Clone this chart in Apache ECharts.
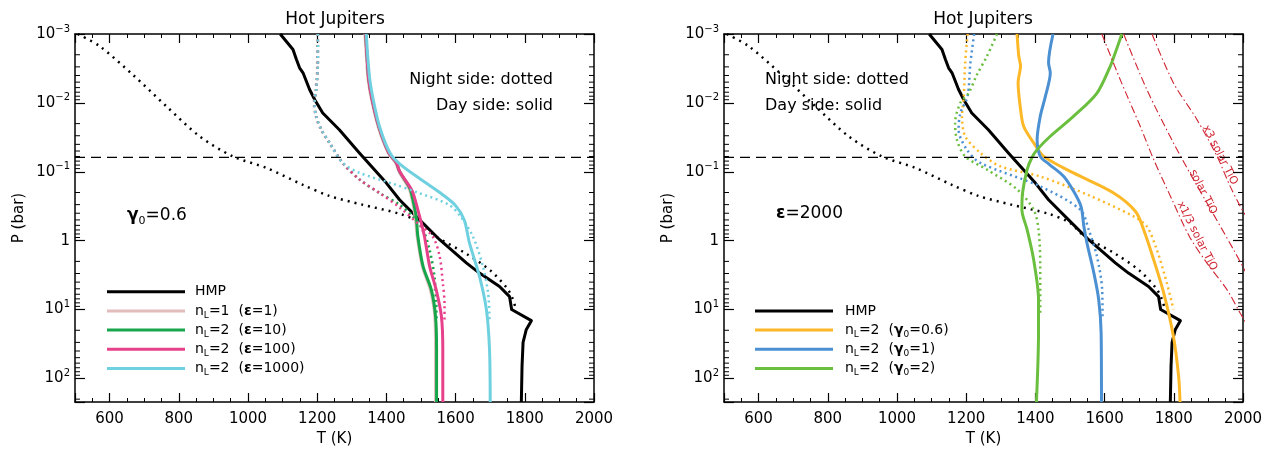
<!DOCTYPE html>
<html><head><meta charset="utf-8">
<script src="https://cdn.jsdelivr.net/npm/echarts@6/dist/echarts.min.js"></script>
<style>html,body{margin:0;padding:0;background:#fff}#c{width:1273px;height:452px}</style>
</head><body><div id="c"></div>
<script>
const FONT = 'DejaVu Sans';
// ---------- data: temperature (K) vs pressure (bar) ----------
const hmpDayT   = [1093, 1130, 1140, 1149, 1159, 1178, 1193, 1216, 1264, 1322, 1400, 1438, 1496, 1554, 1631, 1669, 1727, 1756, 1762, 1819, 1804, 1795, 1792, 1790];
const hmpDayP   = [0.001, 0.00168, 0.00235, 0.0031, 0.00366, 0.0064, 0.009, 0.014, 0.0246, 0.0533, 0.146, 0.255, 0.5, 0.97, 2.1, 2.96, 4.63, 6.5, 10, 14.5, 19.7, 30, 67, 220];
const hmpNightT = [508, 571, 667, 764, 860, 956, 1053, 1159, 1236, 1330, 1440, 1500, 1540, 1631, 1700, 1750, 1765, 1772];
const hmpNightP = [0.001, 0.0015, 0.0039, 0.0112, 0.0305, 0.0597, 0.088, 0.155, 0.225, 0.3, 0.41, 0.55, 0.85, 1.55, 2.7, 5.0, 7.0, 9.0];

// left panel (gamma0 = 0.6)
const dayP_L    = [0.001, 0.0021, 0.0046, 0.009, 0.022, 0.053, 0.0745, 0.0986, 0.163, 0.203, 0.445, 0.87, 2.37, 5.2, 12.6, 38, 220];
const eps1DayT  = [1338, 1342, 1347, 1357, 1376, 1405, 1427, 1436, 1462, 1470, 1483, 1489, 1504, 1527, 1540, 1542, 1542];
const eps10DayT = [1340, 1344, 1349, 1359, 1378, 1407, 1429, 1438, 1465, 1472, 1486, 1491, 1506, 1530, 1542, 1545, 1545];
const eps100DayT= [1340, 1344, 1349, 1359, 1378, 1407, 1429, 1438, 1467, 1477, 1496, 1510, 1525, 1544, 1559, 1563, 1563];
const eps1000DayT=[1342, 1346, 1352, 1362, 1380, 1410, 1440, 1515, 1560, 1600, 1625, 1640, 1669, 1689, 1698, 1700];
const eps1000DayP=[0.001, 0.0021, 0.0046, 0.009, 0.022, 0.053, 0.078, 0.146, 0.21, 0.31, 0.5, 1.08, 3.3, 10, 38, 220];

const eps10NightT = [1202, 1202, 1197, 1192, 1197, 1212, 1236, 1274, 1323, 1380, 1438, 1477, 1506, 1525, 1539, 1544, 1545];
const eps10NightP = [0.001, 0.00267, 0.0064, 0.01, 0.0156, 0.0244, 0.0381, 0.0745, 0.130, 0.203, 0.30, 0.445, 0.695, 1.36, 3.3, 8.1, 14];
const eps1NightT  = [1200, 1200, 1195, 1190, 1195, 1210, 1234, 1272, 1321, 1378, 1436, 1475, 1503, 1522, 1536, 1541, 1542];
const eps100NightT= [1202, 1202, 1197, 1192, 1197, 1212, 1236, 1274, 1323, 1380, 1438, 1496, 1534, 1554, 1563, 1568, 1568];
const eps100NightP= [0.001, 0.00267, 0.0064, 0.01, 0.0156, 0.0244, 0.0381, 0.0745, 0.130, 0.203, 0.33, 0.59, 0.87, 1.7, 4.1, 8.1, 14];
const eps1000NightT=[1202, 1202, 1197, 1192, 1197, 1212, 1236, 1274, 1323, 1420, 1490, 1580, 1615, 1650, 1679, 1694, 1698];
const eps1000NightP=[0.001, 0.00267, 0.0064, 0.01, 0.0156, 0.0244, 0.0381, 0.0745, 0.104, 0.15, 0.2, 0.3, 0.45, 0.87, 2.37, 5.8, 14];

// right panel (epsilon = 2000)
const g06DayT = [1347, 1352, 1357, 1350, 1356, 1366, 1395, 1424, 1510, 1626, 1690, 1715, 1742, 1771, 1799, 1814, 1818];
const g06DayP = [0.001, 0.0021, 0.0029, 0.0051, 0.0112, 0.0219, 0.0381, 0.0597, 0.104, 0.203, 0.38, 0.743, 1.9, 5.78, 24.7, 94, 220];
const g06NightT = [1204, 1197, 1193, 1188, 1197, 1241, 1299, 1414, 1555, 1684, 1722, 1751, 1780, 1799];
const g06NightP = [0.001, 0.00267, 0.008, 0.0157, 0.0305, 0.0533, 0.0835, 0.117, 0.22, 0.445, 0.62, 1.36, 4.14, 10];
const g1DayT = [1451, 1438, 1443, 1429, 1414, 1405, 1414, 1440, 1482, 1510, 1532, 1540, 1549, 1569, 1583, 1590, 1591];
const g1DayP = [0.001, 0.00262, 0.00366, 0.008, 0.0157, 0.034, 0.0597, 0.078, 0.117, 0.19, 0.32, 0.62, 1.08, 2.96, 7.2, 22, 220];
const g1NightT = [1223, 1212, 1204, 1183, 1178, 1202, 1241, 1414, 1530, 1554, 1578, 1593, 1594];
const g1NightP = [0.001, 0.00267, 0.008, 0.0141, 0.0244, 0.0477, 0.0745, 0.163, 0.356, 0.69, 1.7, 5.2, 12.6];
const g2DayT = [1650, 1626, 1617, 1578, 1510, 1443, 1405, 1390, 1376, 1363, 1361, 1376, 1395, 1409, 1409, 1403];
const g2DayP = [0.001, 0.0022, 0.0029, 0.0072, 0.0157, 0.0305, 0.0477, 0.062, 0.093, 0.2, 0.356, 0.69, 1.9, 7.2, 22, 220];
const g2NightT = [1289, 1260, 1231, 1207, 1183, 1168, 1173, 1197, 1260, 1347, 1395, 1409, 1414, 1414];
const g2NightP = [0.001, 0.0021, 0.0039, 0.0072, 0.01, 0.0194, 0.034, 0.0597, 0.093, 0.18, 0.356, 0.69, 2.37, 11.2];

// TiO condensation curves
const tio13T = [1592, 1645, 1703, 1742, 1795, 1845, 1896, 1954, 1992, 2010];
const tio13P = [0.001, 0.00458, 0.0219, 0.0667, 0.255, 0.869, 2.12, 5.18, 11.3, 16];
const tio1T  = [1655, 1722, 1799, 1857, 1896, 1973, 2010];
const tio1P  = [0.001, 0.0064, 0.0381, 0.13, 0.284, 1.36, 3.0];
const tio3T  = [1737, 1799, 1867, 1925, 1963, 1992, 2010];
const tio3P  = [0.001, 0.00513, 0.0175, 0.0597, 0.163, 0.318, 0.45];

const dashP = 0.062;   // horizontal dashed level
const xTickMin = 500, xTickMax = 2000;
const yMin = 0.001, yMax = 220;

// ---------- colours ----------
const C = {black:'#000', pink:'#e3bcbc', green:'#18a64c', magenta:'#e8418c', cyan:'#6fd0df',
           orange:'#fdb827', blue:'#4b90d2', lime:'#6bbf3f', red:'#cf2330'};

const pairs = (T, P) => T.map((t, i) => [t, P[i]]);
function ln(T, P, color, dotted, xi, yi, extra) {
  return Object.assign({
    type: 'line', data: pairs(T, P), xAxisIndex: xi, yAxisIndex: yi,
    symbol: 'none', showSymbol: false, silent: true, animation: false, clip: true, smooth: 0.3,
    lineStyle: {color: color, width: dotted ? 2.5 : 3, type: dotted ? [2, 3.5] : 'solid', cap: 'butt', join: 'round'}
  }, extra || {});
}
function dashLine(xi, yi) {
  return {type:'line', data:[[xTickMin, dashP],[xTickMax, dashP]], xAxisIndex:xi, yAxisIndex:yi,
    symbol:'none', silent:true, animation:false, lineStyle:{color:'#000', width:1.2, type:[10,6]}};
}
// minor log ticks (2..9 x 10^n) on both vertical frame sides
const minorY = [];
for (let d = -3; d <= 2; d++) for (let k = 2; k <= 9; k++) { const v = k * Math.pow(10, d); if (v < yMax) minorY.push([xTickMin, v]); }
function minorTicks(xi, yi) {
  return {type:'custom', xAxisIndex:xi, yAxisIndex:yi, silent:true, animation:false, clip:false,
    data: minorY, encode:{x:0, y:1},
    renderItem: (params, api) => {
      const v = api.value(1);
      const a = api.coord([xTickMin, v]), b = api.coord([xTickMax, v]);
      return {type:'group', children:[
        {type:'line', shape:{x1:a[0], y1:a[1], x2:a[0]+5, y2:a[1]}, style:{stroke:'#000', lineWidth:1}},
        {type:'line', shape:{x1:b[0]-5, y1:b[1], x2:b[0], y2:b[1]}, style:{stroke:'#000', lineWidth:1}}
      ]};
    }};
}
const hmpDotted = {smooth:0.3, lineStyle:{color:'#000', width:2.5, type:[2,5]}};
const hmpSolid = {smooth:false};
const tioStyle = {smooth:0.3, lineStyle:{color:C.red, width:1.1, type:[8,3,1.5,3]}};

const series = [
  // left
  ln(hmpNightT, hmpNightP, C.black, true, 0, 0, hmpDotted),
  ln(hmpDayT, hmpDayP, C.black, false, 0, 0, hmpSolid),
  ln(eps1NightT, eps10NightP, C.pink, true, 0, 0),
  ln(eps1DayT, dayP_L, C.pink, false, 0, 0),
  ln(eps10NightT, eps10NightP, C.green, true, 0, 0),
  ln(eps10DayT, dayP_L, C.green, false, 0, 0),
  ln(eps100NightT, eps100NightP, C.magenta, true, 0, 0),
  ln(eps100DayT, dayP_L, C.magenta, false, 0, 0),
  ln(eps1000NightT, eps1000NightP, C.cyan, true, 0, 0),
  ln(eps1000DayT, eps1000DayP, C.cyan, false, 0, 0),
  dashLine(0, 0), minorTicks(0, 0),
  // right
  ln(hmpNightT, hmpNightP, C.black, true, 2, 2, hmpDotted),
  ln(hmpDayT, hmpDayP, C.black, false, 2, 2, hmpSolid),
  ln(g06NightT, g06NightP, C.orange, true, 2, 2),
  ln(g06DayT, g06DayP, C.orange, false, 2, 2),
  ln(g1NightT, g1NightP, C.blue, true, 2, 2),
  ln(g1DayT, g1DayP, C.blue, false, 2, 2),
  ln(g2NightT, g2NightP, C.lime, true, 2, 2),
  ln(g2DayT, g2DayP, C.lime, false, 2, 2),
  ln(tio13T, tio13P, C.red, false, 2, 2, tioStyle),
  ln(tio1T, tio1P, C.red, false, 2, 2, tioStyle),
  ln(tio3T, tio3P, C.red, false, 2, 2, tioStyle),
  dashLine(2, 2), minorTicks(2, 2)
];

// ---------- axes ----------
const axisLine = {show:true, onZero:false, lineStyle:{color:'#000', width:1.5}};
function xAx(g, pos) {
  const main = pos === 'bottom';
  return {type:'value', gridIndex:g, position:pos, min:xTickMin, max:xTickMax, splitNumber:7,
    axisLine:axisLine, splitLine:{show:false},
    axisTick:{show:true, inside:true, length:9, lineStyle:{color:'#000', width:1.2}},
    minorTick:{show:true, splitNumber:4, length:4, lineStyle:{color:'#000', width:1}},
    axisLabel:{show:main, color:'#000', fontSize:15, fontFamily:FONT, margin:10,
      formatter: v => (v % 200 === 0 ? String(v) : '')},
    name: main ? 'T (K)' : '', nameLocation:'middle', nameGap:25,
    nameTextStyle:{color:'#000', fontSize:15, fontFamily:FONT}};
}
function yLabel(v) {
  const l = Math.log10(v), e = Math.round(l);
  if (Math.abs(l - e) > 1e-6) return '';
  if (e === 0) return '{b|1}';
  return '{b|10}{s|' + String(e).replace('-', '\u2212') + '}';
}
function yAx(g, pos) {
  const main = pos === 'left';
  return {type:'log', logBase:10, gridIndex:g, position:pos, min:yMin, max:yMax, inverse:true,
    axisLine:axisLine, splitLine:{show:false}, minorTick:{show:false},
    axisTick:{show:true, inside:true, length:10, lineStyle:{color:'#000', width:1.2}},
    axisLabel:{show:main, color:'#000', fontFamily:FONT, margin:5, formatter:yLabel,
      rich:{b:{fontSize:15, fontFamily:FONT, color:'#000', lineHeight:20},
            s:{fontSize:10, fontFamily:FONT, color:'#000', lineHeight:10, verticalAlign:'top'}}},
    name: main ? 'P (bar)' : '', nameLocation:'middle', nameGap:48, nameRotate:90,
    nameTextStyle:{color:'#000', fontSize:15, fontFamily:FONT}};
}

// ---------- annotations ----------
function txt(x, y, text, size, align, extra) {
  return Object.assign({type:'text', x:x, y:y, silent:true,
    style:{text:text, fill:'#000', fontSize:size, fontFamily:FONT, align:align || 'left', verticalAlign:'middle',
      rich:{sub:{fontSize:Math.round(size*0.65), fontFamily:FONT, fill:'#000', lineHeight:Math.round(size*0.6), verticalAlign:'bottom'},
            bb:{fontSize:size, fontFamily:FONT, fill:'#000', fontWeight:'bold', lineHeight:size+4},
            n:{fontSize:size, fontFamily:FONT, fill:'#000', lineHeight:size+4}}}}, extra || {});
}
function legLine(x1, x2, y, color) {
  return {type:'line', silent:true, shape:{x1:x1, y1:y, x2:x2, y2:y}, style:{stroke:color, lineWidth:3}};
}
const legL = [
  ['{n|HMP}', C.black], ['{n|n}{sub|L}{n|=1  (}{bb|ε}{n|=1)}', C.pink], ['{n|n}{sub|L}{n|=2  (}{bb|ε}{n|=10)}', C.green],
  ['{n|n}{sub|L}{n|=2  (}{bb|ε}{n|=100)}', C.magenta], ['{n|n}{sub|L}{n|=2  (}{bb|ε}{n|=1000)}', C.cyan]];
const legR = [
  ['{n|HMP}', C.black], ['{n|n}{sub|L}{n|=2  (}{bb|γ}{sub|0}{n|=0.6)}', C.orange],
  ['{n|n}{sub|L}{n|=2  (}{bb|γ}{sub|0}{n|=1)}', C.blue], ['{n|n}{sub|L}{n|=2  (}{bb|γ}{sub|0}{n|=2)}', C.lime]];
const legYL = [291.7, 310.9, 330.1, 349.3, 368.5];
const legYR = [310.9, 330.1, 349.3, 368.5];

const graphics = [
  txt(335, 20, 'Hot Jupiters', 17, 'center'),
  txt(983, 20, 'Hot Jupiters', 17, 'center'),
  txt(553, 80, 'Night side: dotted', 16, 'right'),
  txt(553, 106, 'Day side: solid', 16, 'right'),
  txt(765, 80, 'Night side: dotted', 16, 'left'),
  txt(765, 106, 'Day side: solid', 16, 'left'),
  txt(127, 216, '{bb|γ}{sub|0}{n|=0.6}', 17, 'left'),
  txt(776, 214, '{bb|ε}{n|=2000}', 17, 'left')
];
legL.forEach((e, i) => { graphics.push(legLine(107, 185, legYL[i], e[1])); graphics.push(txt(195, legYL[i], e[0], 14, 'left')); });
legR.forEach((e, i) => { graphics.push(legLine(755, 833, legYR[i], e[1])); graphics.push(txt(845, legYR[i], e[0], 14, 'left')); });
const rot = -63 * Math.PI / 180;
[['x3 solar TiO', 1220, 155], ['solar TiO', 1203, 192], ['x1/3 solar TiO', 1197, 236]].forEach(t => {
  graphics.push({type:'text', x:t[1], y:t[2], rotation:rot, silent:true,
    style:{text:t[0], fill:C.red, fontSize:11, fontFamily:FONT, align:'center', verticalAlign:'middle'}});
});

const chart = echarts.init(document.getElementById('c'), null, {renderer:'canvas'});
chart.setOption({
  animation:false, backgroundColor:'#fff',
  textStyle:{fontFamily:FONT},
  grid:[{left:75, right:679, top:34, bottom:50, containLabel:false},
        {left:724, right:30, top:34, bottom:50, containLabel:false}],
  xAxis:[xAx(0,'bottom'), xAx(0,'top'), xAx(1,'bottom'), xAx(1,'top')],
  yAxis:[yAx(0,'left'), yAx(0,'right'), yAx(1,'left'), yAx(1,'right')],
  series: series,
  graphic: graphics
});
</script></body></html>
